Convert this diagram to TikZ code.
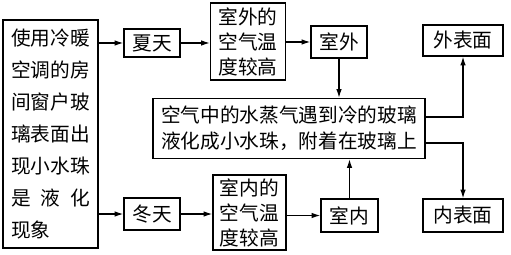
\documentclass[tikz,border=0pt]{standalone}
\usepackage{fontspec}
\newfontfamily\cjk{Noto Sans CJK SC}
\usetikzlibrary{arrows.meta,calc}

\begin{document}
\begin{tikzpicture}[x=0.025cm,y=-0.025cm,font=\cjk\fontsize{14}{17.8}\selectfont,
   box/.style={draw,line width=0.9pt,align=center,inner sep=0pt},
   arr/.style={line width=0.9pt,-{Latex[length=2.2mm,width=1.4mm]}}]
  \useasboundingbox (0,0) rectangle (511,255);
  \node[box,align=left,minimum width=2.375cm,minimum height=5.7cm,font=\cjk\fontsize{14}{22.8}\selectfont]
    (use) at (50.5,134) {使用冷暖\\空调的房\\间窗户玻\\璃表面出\\现小水珠\\是\hspace{0.5em}液\hspace{0.5em}化\\现象};
  \node[box,minimum width=1.4cm,minimum height=0.7cm]   (summer)  at (152,43)    {夏天};
  \node[box,minimum width=1.4cm,minimum height=0.8cm]   (winter)  at (152,214)   {冬天};
  \node[box,minimum width=1.875cm,minimum height=1.925cm] (outhot) at (248,41.5)  {室外的\\空气温\\度较高};
  \node[box,minimum width=1.825cm,minimum height=1.875cm] (inhot)  at (249.5,212.5) {室内的\\空气温\\度较高};
  \node[box,minimum width=1.4cm,minimum height=0.8cm]   (outdoor) at (339,42)    {室外};
  \node[box,minimum width=1.425cm,minimum height=0.825cm] (indoor) at (349.5,215.5) {室内};
  \node[box,minimum width=6.8cm,minimum height=1.5cm,font=\cjk\fontsize{14}{18.5}\selectfont]
    (mid) at (289,128.5) {空气中的水蒸气遇到冷的玻璃\\液化成小水珠，附着在玻璃上};
  \node[box,minimum width=2cm,minimum height=0.775cm]   (outface) at (463,40.5)  {外表面};
  \node[box,minimum width=2cm,minimum height=0.825cm]   (inface)  at (463,215.5) {内表面};
  \draw[arr] (use.east |- summer) -- (summer);
  \draw[arr] (use.east |- winter) -- (winter);
  \draw[arr] (summer) -- (summer -| outhot.west);
  \draw[arr] (winter) -- (winter -| inhot.west);
  \draw[arr] (outhot.east |- outdoor) -- (outdoor);
  \draw[arr] (inhot.east |- indoor) -- (indoor);
  \draw[arr] (outdoor) -- (outdoor |- mid.north);
  \draw[arr] (indoor) -- (indoor |- mid.south);
  \draw[arr] ($(mid.east)+(0,-11.5)$) -| (outface);
  \draw[arr] ($(mid.east)+(0,14.5)$) -| (inface);
\end{tikzpicture}
\end{document}
